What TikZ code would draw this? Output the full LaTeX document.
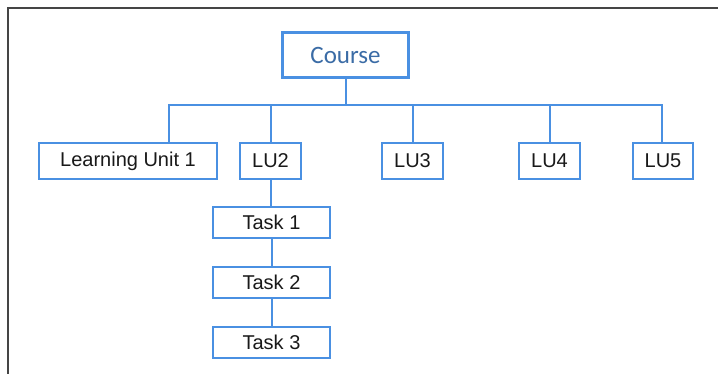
\documentclass[tikz,border=0pt]{standalone}
\usepackage{fontspec}
\setmainfont{Liberation Sans}
\newfontfamily\coursefont{Carlito}
\usepackage{xcolor}
\usetikzlibrary{positioning}

\definecolor{treeblue}{HTML}{4A90E2}
\definecolor{titleblue}{HTML}{3B6CA6}
\definecolor{framegray}{HTML}{454545}

\begin{document}
\begin{tikzpicture}[
				x=1pt, y=1pt,
				% Defining node styles
				top_block/.style={rectangle, draw=treeblue, line width=3pt, fill=white, text=titleblue, minimum width=126pt, minimum height=45pt, font=\coursefont\fontsize{25}{30}\selectfont},
				unit/.style={rectangle, draw=treeblue, line width=2pt, fill=white, text=black!90, minimum width=61pt, minimum height=36pt, inner sep=0pt, font=\fontsize{20}{24}\selectfont},
				task/.style={unit, minimum width=117pt, minimum height=31pt},
				link/.style={draw=treeblue, line width=2pt},
				frame/.style={draw=framegray, line width=2pt}
			]
			\useasboundingbox (0,0) rectangle (718,-374);

			% Outer frame
			\draw[frame] (8,-374) -- (8,-8) -- (718,-8);

			% Course and the learning units
			\node[top_block] (course) at (345.5,-55) {Course};
			\node[unit, minimum width=178pt] (lu1) at (128,-161) {Learning Unit 1};
			\node[unit, right=21pt of lu1] (lu2) {LU2};
			\node[unit, right=79pt of lu2] (lu3) {LU3};
			\node[unit, right=74pt of lu3] (lu4) {LU4};
			\node[unit, right=51pt of lu4, minimum width=60pt] (lu5) {LU5};

			% Tasks under LU2
			\node[task, below=26pt of lu2, xshift=1pt] (t1) {Task 1};
			\node[task, below=27pt of t1] (t2) {Task 2};
			\node[task, below=27pt of t2] (t3) {Task 3};

			% Drawing the tree lines
			\coordinate (hub) at ([yshift=-26pt]course.south);
			\draw[link] (course.south) -- (hub);
			\draw[link] (hub) -| ([xshift=41pt]lu1.north);
			\draw[link] (hub) -| (lu2.north);
			\draw[link] (hub) -| (lu3.north);
			\draw[link] (hub) -| (lu4.north);
			\draw[link] (hub) -| ([xshift=-1pt]lu5.north);
			\draw[link] (lu2.south) -- (lu2.south |- t1.north);
			\draw[link] (t1) -- (t2);
			\draw[link] (t2) -- (t3);

		\end{tikzpicture}
\end{document}
